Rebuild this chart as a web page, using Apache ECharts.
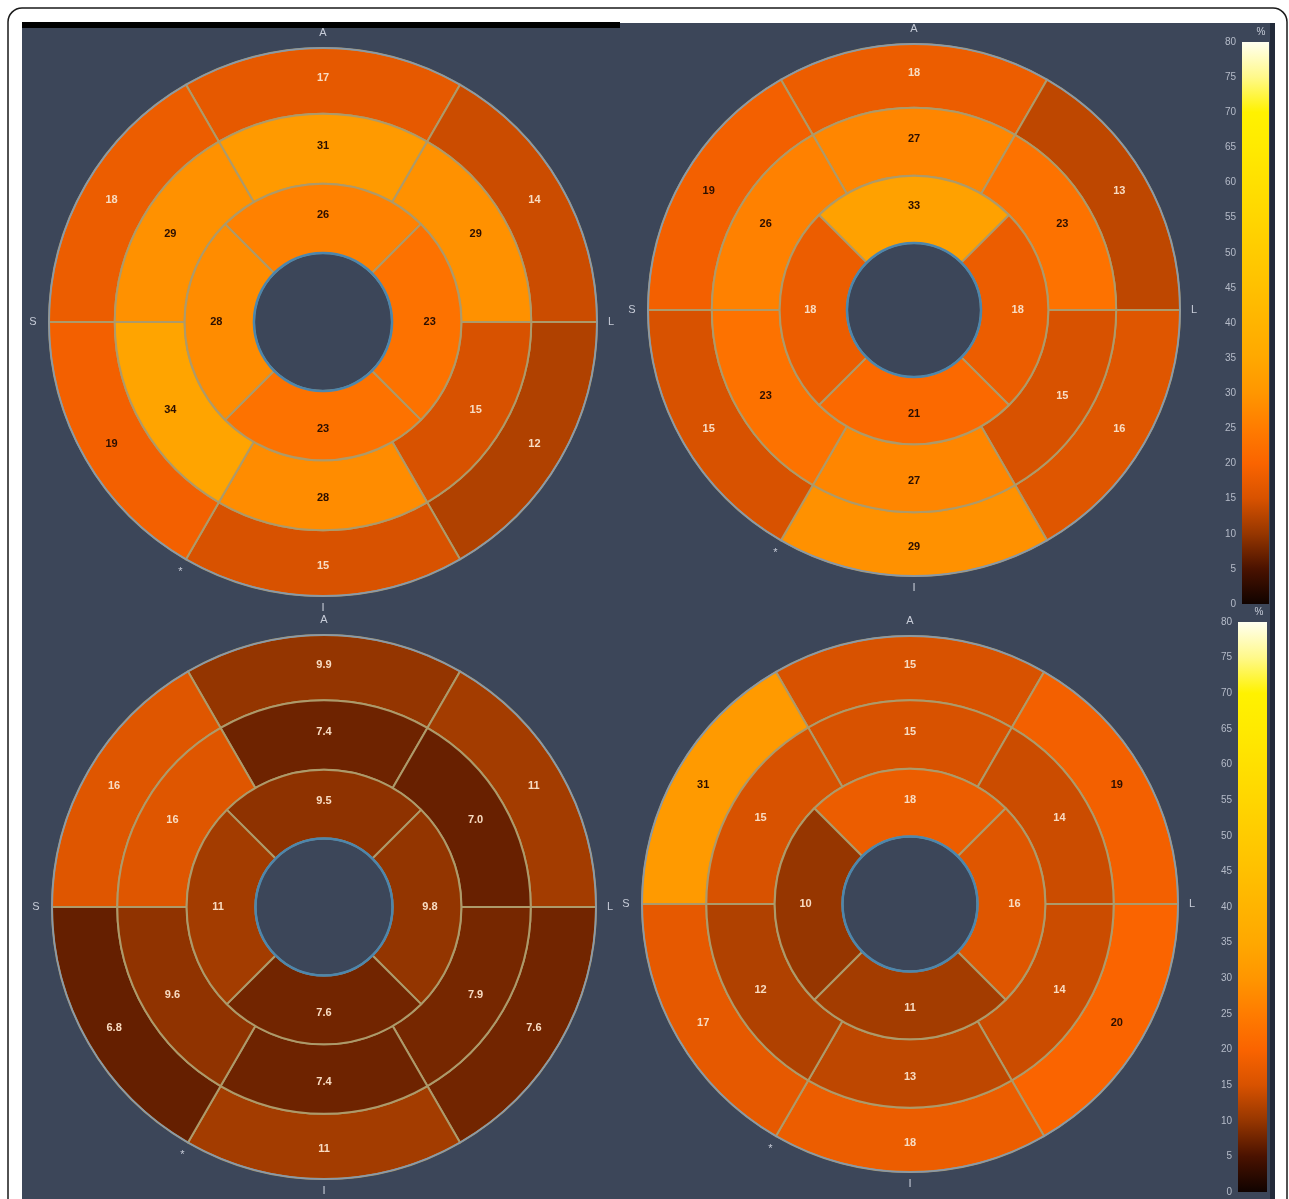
<!DOCTYPE html>
<html>
<head>
<meta charset="utf-8">
<script src="https://cdn.jsdelivr.net/npm/echarts@6/dist/echarts.min.js"></script>
<style>
html,body{margin:0;padding:0;background:#ffffff;}
#chart{width:1289px;height:1199px;}
</style>
</head>
<body>
<div id="chart"></div>
<script>
// ---------- DATA ----------
// basal / mid rings: clockwise from top (anterior), 6 segments
// apical ring: clockwise from top, 4 segments
const basalSegments = ['Anterior', 'Anterolateral', 'Inferolateral', 'Inferior', 'Inferoseptal', 'Anteroseptal'];
const apicalSegments = ['Anterior', 'Lateral', 'Inferior', 'Septal'];

const p1Basal  = [17, 14, 12, 15, 19, 18];
const p1Mid    = [31, 29, 15, 28, 34, 29];
const p1Apical = [26, 23, 23, 28];

const p2Basal  = [18, 13, 16, 29, 15, 19];
const p2Mid    = [27, 23, 15, 27, 23, 26];
const p2Apical = [33, 18, 21, 18];

const p3Basal  = [9.9, 11, 7.6, 11, 6.8, 16];
const p3Mid    = [7.4, 7.0, 7.9, 7.4, 9.6, 16];
const p3Apical = [9.5, 9.8, 7.6, 11];

const p4Basal  = [15, 19, 20, 18, 17, 31];
const p4Mid    = [15, 14, 14, 13, 12, 15];
const p4Apical = [18, 16, 11, 10];

const scaleMin = 0, scaleMax = 80, scaleStep = 5;
const scaleUnit = '%';
const scaleColors = ['#100300', '#4a1200', '#963600', '#d85200', '#fa6400', '#ff7c00', '#ff9600', '#ffa800',
                     '#ffb400', '#ffc000', '#ffcb00', '#ffd600', '#ffe000', '#ffea00', '#fff200', '#fff98a', '#fffff0'];
const directionLabels = ['A', 'L', 'I', 'S'];
const rvMark = '*';

// ---------- LAYOUT ----------
const plots = [
  {cx: 323, cy: 322, R: 274, data: [p1Basal, p1Mid, p1Apical]},
  {cx: 914, cy: 310, R: 266, data: [p2Basal, p2Mid, p2Apical]},
  {cx: 324, cy: 907, R: 272, data: [p3Basal, p3Mid, p3Apical]},
  {cx: 910, cy: 904, R: 268, data: [p4Basal, p4Mid, p4Apical]}
];
const ringFr = [0.252, 0.505, 0.76, 1.0];
const FONT = '"Liberation Sans", Arial, sans-serif';

function fmt(v) { return v < 10 ? v.toFixed(1) : String(Math.round(v)); }

const datasets = [];
const series = [];
const ringSeriesIdx = [];
const graphics = [];

// background frame
graphics.push({type: 'rect', z: -10, shape: {x: 8, y: 8, width: 1279, height: 1220, r: 14},
  style: {fill: '#ffffff', stroke: '#1a1a1a', lineWidth: 1.5}});
graphics.push({type: 'rect', z: -9, shape: {x: 22, y: 23, width: 1253, height: 1190},
  style: {fill: '#3c4659'}});
graphics.push({type: 'rect', z: -8, shape: {x: 22, y: 22, width: 598, height: 6},
  style: {fill: '#000000'}});
graphics.push({type: 'rect', z: -8, shape: {x: 1270, y: 23, width: 5, height: 1190},
  style: {fill: '#222a3a'}});

function ringSeries(p, vals, names, rIn, rOut, startAngle) {
  datasets.push({source: vals.map((v, i) => [names[i], 1, v])});
  ringSeriesIdx.push(series.length);
  series.push({
    type: 'pie', datasetIndex: datasets.length - 1,
    center: [p.cx, p.cy], radius: [rIn, rOut], startAngle: startAngle, clockwise: true,
    encode: {itemName: 0, value: 1},
    silent: true, animation: false, avoidLabelOverlap: false, z: 2,
    label: {
      show: true, position: 'inside',
      formatter: function (prm) {
        const v = prm.value[2];
        return '{' + (v >= 18.5 ? 'd' : 'l') + '|' + fmt(v) + '}';
      },
      rich: {
        d: {color: '#2c0f00', fontSize: 11, fontWeight: 'bold', fontFamily: FONT},
        l: {color: '#f8dcc2', fontSize: 11, fontWeight: 'bold', fontFamily: FONT}
      }
    },
    labelLine: {show: false},
    itemStyle: {borderColor: '#ad9a6a', borderWidth: 2},
    emphasis: {disabled: true}
  });
}

function outline(p, r, color, w) {
  series.push({
    type: 'pie', center: [p.cx, p.cy], radius: [r - w / 2, r + w / 2], silent: true, animation: false, z: 3,
    label: {show: false}, labelLine: {show: false},
    itemStyle: {color: color, borderWidth: 0},
    emphasis: {disabled: true},
    data: [{value: 1, name: 'outline'}]
  });
}

plots.forEach(function (p) {
  const r = ringFr.map(f => f * p.R);
  ringSeries(p, p.data[0], basalSegments, r[2], r[3], 120);
  ringSeries(p, p.data[1], basalSegments, r[1], r[2], 120);
  ringSeries(p, p.data[2], apicalSegments, r[0], r[1], 135);
  outline(p, r[3], '#8799ad', 1.5);
  outline(p, r[0], '#4d86ac', 2.5);

  const txt = (t, x, y, size) => graphics.push({type: 'text', z: 20,
    style: {text: t, x: x, y: y, fill: '#c7ccd8', fontSize: size || 11, fontFamily: FONT, align: 'center', verticalAlign: 'middle'}});
  txt(directionLabels[0], p.cx, p.cy - p.R - 15);
  txt(directionLabels[1], p.cx + p.R + 14, p.cy);
  txt(directionLabels[2], p.cx, p.cy + p.R + 12);
  txt(directionLabels[3], p.cx - p.R - 16, p.cy);
  const a = 240 * Math.PI / 180;
  txt(rvMark, p.cx + (p.R + 11) * Math.cos(a), p.cy - (p.R + 11) * Math.sin(a) + 3, 11);
});

// colour scales (legend bars)
const grids = [
  {left: 1242, top: 42, width: 27, height: 562},
  {left: 1238, top: 622, width: 29, height: 570}
];
const gradStops = scaleColors.map((c, i) => ({offset: i / (scaleColors.length - 1), color: c}));
const xAxes = [], yAxes = [];
grids.forEach(function (g, i) {
  xAxes.push({type: 'category', gridIndex: i, data: ['scale'], show: false});
  yAxes.push({type: 'value', gridIndex: i, min: scaleMin, max: scaleMax, interval: scaleStep,
    axisLine: {show: false}, axisTick: {show: false}, splitLine: {show: false},
    axisLabel: {color: '#b5bbc8', fontSize: 10, margin: 6, fontFamily: FONT}});
  series.push({type: 'bar', xAxisIndex: i, yAxisIndex: i, data: [scaleMax], barWidth: '100%',
    silent: true, animation: false,
    itemStyle: {color: new echarts.graphic.LinearGradient(0, 1, 0, 0, gradStops)}});
  graphics.push({type: 'text', z: 20, style: {text: scaleUnit, x: g.left + g.width - 8, y: g.top - 10,
    fill: '#c7ccd8', fontSize: 10, fontFamily: FONT, align: 'center', verticalAlign: 'middle'}});
});

const chart = echarts.init(document.getElementById('chart'), null, {renderer: 'canvas'});
chart.setOption({
  backgroundColor: 'transparent',
  animation: false,
  dataset: datasets,
  grid: grids,
  xAxis: xAxes,
  yAxis: yAxes,
  visualMap: {
    type: 'continuous', show: false, min: scaleMin, max: scaleMax, dimension: 2,
    seriesIndex: ringSeriesIdx,
    inRange: {color: scaleColors}
  },
  graphic: {elements: graphics},
  series: series
});
</script>
</body>
</html>
